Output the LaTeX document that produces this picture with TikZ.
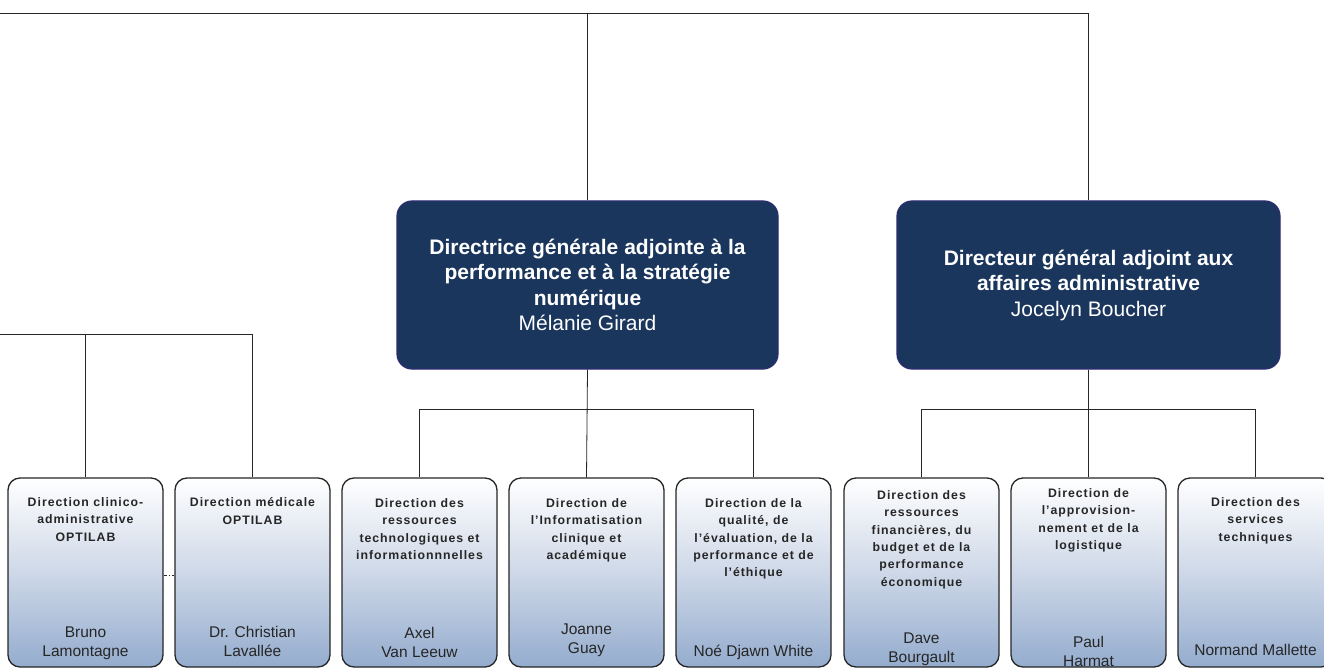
\documentclass[tikz,border=0pt]{standalone}
\usepackage{fontspec}
\setmainfont{Liberation Sans}
\newfontfamily\spacedfont[LetterSpace=8]{Liberation Sans}
\definecolor{dgfill}{RGB}{26,54,93}
\definecolor{dgborder}{RGB}{44,44,112}
\definecolor{boxblue}{RGB}{148,172,206}
\definecolor{boxmid}{RGB}{206,216,232}
\begin{document}
\begin{tikzpicture}[x=1pt,y=-1pt,
  conn/.style={draw=black!85,line width=0.8pt},
  dirbox/.style={rounded corners=15pt,draw=dgborder,fill=dgfill,line width=1.2pt,
    minimum width=381pt,minimum height=168pt,text=white,align=center,inner sep=0pt,
    font=\fontsize{21}{25.5}\selectfont\bfseries},
  subbox/.style={rounded corners=12pt,draw=black!85,line width=1.3pt,
    minimum width=155pt,minimum height=189pt,inner sep=0pt,
    top color=white,bottom color=boxblue,middle color=boxmid},
  subtitle/.style={anchor=north,align=center,inner sep=0pt,text=black!85,
    font=\spacedfont\bfseries\fontsize{12.3}{17.3}\selectfont},
  subname/.style={anchor=north,align=center,inner sep=0pt,text=black!85,
    font=\fontsize{15.5}{19}\selectfont}]
\useasboundingbox (0,0) rectangle (1324,668);
\fill[white] (0,0) rectangle (1324,668);

% top-level boxes
\node[dirbox] (dga) at (587.5,285) {Directrice générale adjointe à la\\performance et à la stratégie\\numérique\\{\mdseries Mélanie Girard}};
\node[dirbox,minimum width=383pt] (dgb) at (1088.5,285) {Directeur général adjoint aux\\affaires administrative\\{\mdseries Jocelyn Boucher}};

% sub boxes
\node[subbox] (b1) at (85.5,572.5) {};
\node[subbox] (b2) at (252.5,572.5) {};
\node[subbox] (b3) at (419.5,572.5) {};
\node[subbox] (b4) at (586.5,572.5) {};
\node[subbox] (b5) at (753.5,572.5) {};
\node[subbox] (b6) at (921.5,572.5) {};
\node[subbox] (b7) at (1088.5,572.5) {};
\node[subbox] (b8) at (1255.5,572.5) {};

% titles
\node[subtitle] (t1) at (85.5,497.5) {Direction clinico-\\administrative\\OPTILAB};
\node[subtitle] (t2) at (252.5,497.5) {Direction médicale\\OPTILAB};
\node[subtitle] (t3) at (419.5,498.5) {Direction des\\ressources\\technologiques et\\informationnnelles};
\node[subtitle] (t4) at (586.5,498.5) {Direction de\\l’Informatisation\\clinique et\\académique};
\node[subtitle] (t5) at (753.5,498.5) {Direction de la\\qualité, de\\l’évaluation, de la\\performance et de\\l’éthique};
\node[subtitle] (t6) at (921.5,490.5) {Direction des\\ressources\\financières, du\\budget et de la\\performance\\économique};
\node[subtitle] (t7) at (1088.5,488.5) {Direction de\\l’approvision-\\nement et de la\\logistique};
\node[subtitle] (t8) at (1255.5,497.5) {Direction des\\services\\techniques};

% names
\node[subname] (n1) at (85.5,626.5) {Bruno\\Lamontagne};
\node[subname] (n2) at (252.5,626.5) {Dr. Christian\\Lavallée};
\node[subname] (n3) at (419.5,627.5) {Axel\\Van Leeuw};
\node[subname] (n4) at (586.5,623.5) {Joanne\\Guay};
\node[subname] (n5) at (753.5,644.5) {Noé Djawn White};
\node[subname] (n6) at (921.5,632.5) {Dave\\Bourgault};
\node[subname] (n7) at (1088.5,636.5) {Paul\\Harmat};
\node[subname] (n8) at (1255.5,644.5) {Normand Mallette};

% connectors
\coordinate (topL) at (0,13);
\coordinate (midL) at (0,334);
\draw[conn] (topL) -| (dga.north);
\draw[conn] (topL) -| (dgb.north);
\draw[conn] (midL) -| (b1.north);
\draw[conn] (midL) -| (b2.north);
\draw[conn] (dga.south) -- (b4.north);
\draw[conn] (b3.north) -- ++(0,-68) -| (b5.north);
\draw[conn] (dgb.south) -- (b7.north);
\draw[conn] (b6.north) -- ++(0,-68) -| (b8.north);
\draw[black!85,line width=0.6pt,dash pattern=on 3pt off 2pt on 1pt off 2pt] ([yshift=-2.5pt]b1.east) -- ([yshift=-2.5pt]b2.west);
\end{tikzpicture}
\end{document}
